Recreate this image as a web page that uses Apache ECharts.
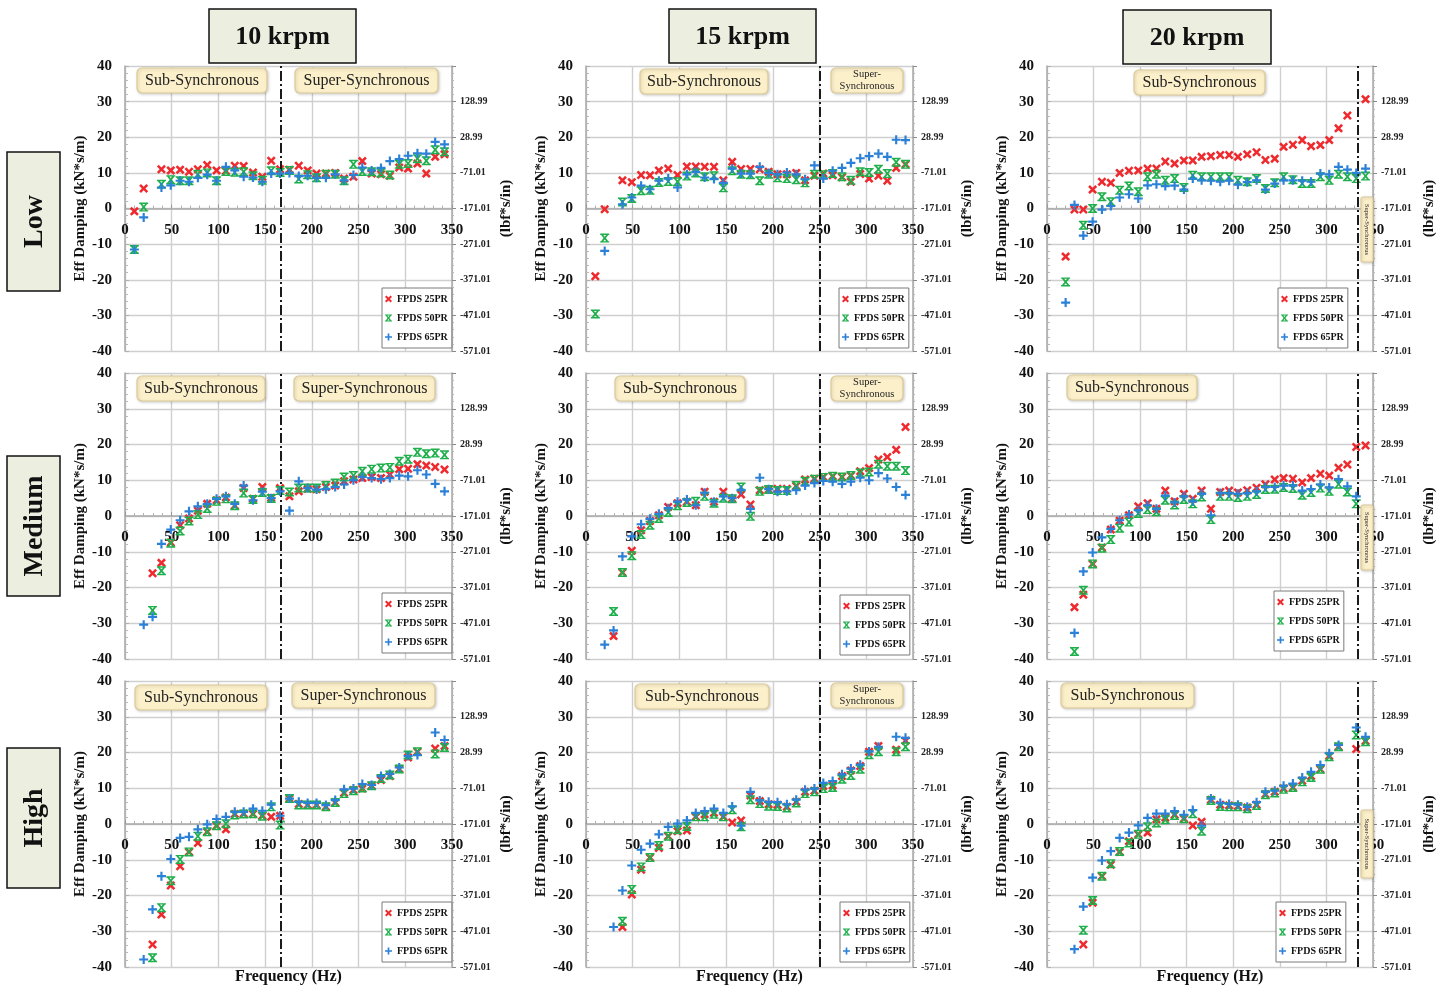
<!DOCTYPE html>
<html>
<head>
<meta charset="utf-8">
<title>Effective damping vs frequency</title>
<script src="https://cdn.jsdelivr.net/npm/echarts/dist/echarts.min.js"></script>
<style>
  html, body { margin: 0; padding: 0; background: #ffffff; }
  #chart { width: 1450px; height: 990px; }
</style>
</head>
<body>
<div id="chart"></div>
<script>
// Excitation frequencies (Hz)
const freqHz = [10, 20, 29.5, 39, 49, 59, 68.5, 78, 88, 98, 108, 117.5, 127, 137, 147, 156.5, 166, 176, 186, 195.5,
  205, 215, 225, 234.5, 244.5, 254, 264, 274, 283.5, 293.5, 303, 313, 322.5, 332, 342];

// Effective damping (kN*s/m) — Low load
const low10_25 = [-0.8, 5.6, null, 11.0, 10.7, 10.9, 10.3, 11.0, 12.2, 10.7, 10.5, 12.0, 11.9, 10.1, 8.9, 13.4, 11.0, 10.9, 12.0, 10.7, 9.8, 9.8, 10.0, 8.4, 8.9, 13.3, 9.8, 9.6, 9.2, 11.5, 11.2, 12.6, 9.8, 14.5, 15.2];
const low10_50 = [-11.5, 0.4, null, 6.8, 8.1, 7.8, 7.8, 9.6, 10.0, 7.8, 10.4, 10.2, 10.3, 9.2, 7.9, 10.6, 10.1, 10.7, 8.3, 9.5, 8.6, 9.6, 9.6, 7.8, 12.4, 10.4, 10.3, 10.0, 9.4, 12.4, 12.6, 14.0, 13.4, 16.5, 15.9];
const low10_65 = [-11.5, -2.5, null, 5.9, 6.5, 7.8, 7.5, 8.6, 9.5, 7.8, 11.7, 10.7, 8.9, 8.7, 7.5, 9.8, 9.8, 10.0, 9.1, 9.2, 8.6, 8.6, 9.6, 7.9, 9.4, 11.5, 10.7, 11.4, 13.3, 13.9, 14.8, 15.5, 15.4, 18.7, 18.0];

const low15_25 = [-19.0, -0.2, null, 7.9, 7.4, 9.4, 9.3, 10.7, 11.2, 9.4, 11.8, 11.8, 11.7, 11.7, 7.9, 13.1, 11.1, 11.1, 11.0, 10.3, 9.6, 9.6, 10.0, 7.9, 9.2, 9.8, 9.3, 8.8, 7.5, 9.7, 8.4, 9.2, 7.8, 11.4, 12.4];
const low15_50 = [-29.6, -8.3, null, 1.8, 2.8, 5.0, 5.1, 7.3, 7.6, 7.5, 9.1, 10.0, 8.9, 9.2, 5.8, 10.6, 9.6, 9.5, 7.8, 9.6, 8.6, 8.4, 8.1, 7.2, 9.6, 9.5, 9.8, 8.9, 7.9, 10.3, 10.1, 11.0, 9.8, 13.0, 12.4];
const low15_65 = [null, -11.9, null, 1.2, 3.1, 6.4, 5.4, 7.8, 8.4, 5.9, 9.6, 10.3, 8.7, 8.3, 7.2, 11.2, 9.8, 9.8, 11.7, 10.0, 9.6, 10.1, 9.6, 8.2, 12.1, 8.4, 10.6, 11.4, 12.8, 14.1, 14.7, 15.4, 14.5, 19.3, 19.2];

const low20_25 = [null, -13.5, -0.3, -0.3, 5.3, 7.5, 7.2, 10.0, 10.6, 10.7, 11.2, 11.2, 13.2, 12.6, 13.5, 13.5, 14.5, 14.7, 15.0, 15.0, 14.5, 15.2, 15.8, 13.6, 14.0, 17.3, 17.9, 19.2, 17.5, 17.8, 19.2, 22.5, 26.1, null, 30.7];
const low20_50 = [null, -20.6, null, -4.7, 0.0, 3.3, 1.9, 5.1, 6.3, 4.7, 8.9, 9.6, 7.9, 8.4, 5.9, 9.3, 8.9, 8.9, 8.9, 8.9, 7.9, 7.5, 8.4, 5.6, 7.2, 8.9, 8.1, 7.0, 7.0, 8.9, 7.9, 9.6, 8.9, 8.4, 9.1];
const low20_65 = [null, -26.4, 1.0, -7.6, -3.7, -0.3, 0.7, 3.1, 4.0, 2.8, 6.5, 6.8, 6.3, 6.4, 5.3, 8.4, 7.9, 7.8, 7.5, 7.8, 6.7, 7.4, 7.9, 5.3, 7.0, 7.9, 7.9, 7.8, 7.5, 9.8, 9.6, 11.7, 10.9, 10.0, 11.2];

// Medium load
const med10_25 = [null, null, -16.0, -13.1, -7.4, -2.6, -0.7, 1.5, 3.4, 4.4, 5.2, 2.9, 7.8, 4.8, 8.1, 5.1, 7.8, 5.5, 6.9, 7.6, 7.5, 8.1, 8.5, 9.7, 10.2, 10.6, 10.9, 10.6, 11.6, 13.1, 13.2, 14.5, 14.1, 13.7, 13.0];
const med10_50 = [null, null, -26.4, -15.3, -7.6, -4.2, -1.4, 0.4, 2.1, 4.1, 4.8, 2.9, 6.4, 4.6, 6.6, 4.9, 7.1, 6.7, 7.8, 7.8, 7.8, 8.5, 9.2, 10.9, 11.3, 12.5, 13.1, 13.4, 13.6, 15.3, 15.9, 17.8, 17.4, 17.6, 17.1];
const med10_65 = [null, -30.4, -28.2, -7.8, -3.8, -1.2, 1.3, 2.7, 3.4, 4.8, 5.5, 3.4, 8.5, 4.4, 6.8, 5.0, 6.9, 1.5, 9.7, 7.8, 7.4, 7.5, 8.1, 8.8, 10.0, 10.9, 10.6, 10.3, 10.6, 11.3, 11.1, 12.8, 11.6, 9.0, 6.9];

const med15_25 = [null, null, -33.6, -15.8, -9.7, -4.0, -1.4, 0.2, 2.5, 3.6, 4.0, 3.0, 6.8, 4.0, 6.8, 4.8, 6.0, 3.2, 7.2, 7.4, 7.6, 7.6, 8.4, 10.2, 10.4, 10.9, 11.1, 10.9, 11.3, 12.5, 13.4, 15.8, 16.5, 18.5, 24.9];
const med15_50 = [null, null, -26.7, -15.8, -11.1, -5.2, -2.6, -0.7, 1.0, 2.9, 3.8, 4.1, 5.5, 3.6, 5.0, 4.8, 8.1, -0.1, 6.9, 7.4, 7.1, 7.1, 8.5, 9.7, 10.3, 10.8, 11.1, 10.9, 11.3, 12.0, 12.3, 14.5, 13.9, 13.9, 12.7];
const med15_65 = [null, -36.0, -32.0, -11.3, -5.7, -2.3, -0.8, 0.6, 2.2, 4.0, 4.6, 3.0, 6.5, 4.0, 5.5, 5.0, 7.3, 2.0, 10.7, 7.5, 6.8, 6.9, 7.2, 8.5, 9.2, 9.8, 9.6, 9.0, 9.6, 10.7, 10.0, 12.0, 10.5, 8.1, 5.9];

const med20_25 = [null, null, -25.5, -22.0, -13.4, -8.8, -3.8, -1.3, 0.2, 2.7, 3.6, 2.0, 7.1, 4.1, 6.2, 4.8, 7.1, 2.0, 6.7, 7.1, 6.6, 7.2, 7.9, 8.9, 10.2, 10.6, 10.4, 9.4, 10.6, 11.8, 11.3, 13.5, 14.4, 19.3, 19.7];
const med20_50 = [null, null, -37.9, -20.8, -13.4, -9.0, -6.6, -3.4, -1.7, 0.7, 1.8, 1.2, 4.4, 3.1, 4.6, 3.4, 5.3, -1.0, 5.5, 5.5, 5.2, 5.5, 6.0, 7.4, 7.5, 8.0, 7.7, 5.8, 6.6, 7.8, 6.9, 8.9, 6.7, 3.4, null];
const med20_65 = [null, null, -32.7, -15.5, -10.2, -6.0, -3.6, -1.2, 0.4, 1.6, 3.0, 2.0, 5.7, 3.8, 5.5, 4.1, 6.2, 0.2, 6.4, 6.4, 6.2, 6.4, 6.9, 8.1, 8.1, 8.5, 8.5, 7.1, 7.5, 8.8, 8.0, 10.3, 8.3, 5.5, null];

// High load
const high10_25 = [null, null, -33.7, -25.3, -17.2, -11.8, -7.8, -5.3, -2.2, -0.5, -1.5, 2.8, 2.9, 2.8, 2.3, 2.0, 2.3, 7.1, 5.6, 5.3, 5.3, 4.8, 6.0, 8.7, 9.5, 9.9, 10.7, 12.3, 13.4, 15.4, 18.6, 20.2, null, 21.1, 21.8];
const high10_50 = [null, null, -37.4, -23.4, -15.9, -9.9, -7.8, -3.4, -2.2, -0.5, 0.1, 2.5, 2.8, 2.9, 2.2, 4.8, -0.3, 7.1, 5.3, 5.3, 5.3, 4.8, 6.0, 8.5, 9.3, 10.1, 10.7, 12.7, 13.7, 15.4, 19.3, 20.2, null, 19.6, 21.4];
const high10_65 = [null, -37.9, -23.9, -14.6, -9.8, -3.9, -3.6, -1.5, -0.1, 1.4, 2.0, 3.4, 3.4, 4.3, 3.7, 5.4, 2.3, 7.1, 6.2, 5.9, 5.9, 5.3, 6.7, 9.7, 9.9, 11.2, 10.9, 13.4, 14.0, 15.8, 19.0, 19.3, null, 25.6, 23.5];

const high15_25 = [null, null, null, -28.8, -19.7, -12.8, -9.4, -6.7, -3.4, -2.0, -1.8, 2.0, 2.7, 3.1, 2.0, 0.4, 1.0, 8.0, 6.4, 5.5, 5.4, 4.8, 6.2, 9.0, 9.3, 10.6, 10.8, 13.4, 15.0, 16.2, 20.2, 21.8, null, 20.8, 23.3];
const high15_50 = [null, null, null, -27.2, -18.3, -12.0, -9.4, -6.0, -3.4, -1.6, -0.7, 2.0, 2.0, 2.7, 2.0, 4.0, -0.8, 6.8, 5.7, 5.0, 4.9, 4.5, 5.9, 8.5, 9.0, 9.9, 10.2, 12.5, 13.6, 15.3, 19.4, 20.2, null, 20.2, 21.6];
const high15_65 = [null, null, -28.8, -18.6, -11.6, -7.2, -5.5, -2.9, -0.8, 0.1, 1.0, 3.1, 3.6, 4.3, 3.1, 4.9, -0.5, 9.0, 6.6, 6.2, 6.1, 5.5, 6.8, 9.6, 9.9, 11.5, 12.0, 13.9, 15.5, 16.6, 20.3, 21.6, null, 24.4, 24.1];

const high20_25 = [null, null, null, -33.7, -22.0, -14.6, -11.4, -7.8, -4.8, -2.9, -2.4, 1.3, 1.8, 2.6, 1.5, -0.4, 0.6, 6.8, 5.4, 5.2, 5.0, 4.6, 5.4, 8.3, 9.0, 9.9, 10.2, 12.1, 13.4, 15.3, 19.0, 21.6, null, 21.0, 23.2];
const high20_50 = [null, null, null, -29.7, -21.4, -14.6, -11.1, -7.7, -5.3, -2.9, -0.8, 0.3, 1.2, 2.4, 1.5, 2.9, -2.0, 6.6, 4.9, 4.8, 4.8, 4.3, 5.2, 8.2, 8.7, 9.7, 10.2, 11.8, 13.0, 15.3, 18.8, 21.6, null, 24.9, 23.0];
const high20_65 = [null, null, -35.0, -23.1, -15.0, -10.2, -7.6, -3.9, -2.4, -0.4, 1.7, 2.9, 2.9, 3.6, 2.6, 3.9, -0.5, 7.1, 5.9, 5.6, 5.4, 4.8, 6.1, 9.0, 9.3, 10.7, 11.3, 13.0, 14.6, 16.5, 19.8, 22.1, null, 27.0, 24.4];

const seriesNames = ['FPDS 25PR', 'FPDS 50PR', 'FPDS 65PR'];
const speedLabels = ['10 krpm', '15 krpm', '20 krpm'];
const loadLabels = ['Low', 'Medium', 'High'];
const syncHz = [166.67, 250, 333.33];          // running speed of each column
const rightTickLabels = ['-571.01', '-471.01', '-371.01', '-271.01', '-171.01', '-71.01', '28.99', '128.99', ''];

const panels = [
  [[low10_25, low10_50, low10_65], [low15_25, low15_50, low15_65], [low20_25, low20_50, low20_65]],
  [[med10_25, med10_50, med10_65], [med15_25, med15_50, med15_65], [med20_25, med20_50, med20_65]],
  [[high10_25, high10_50, high10_65], [high15_25, high15_50, high15_65], [high20_25, high20_50, high20_65]]
];

// ---- layout & styling ----
const SERIF = '"Liberation Serif", "Times New Roman", serif';
const seriesColors = ['#ee2a2e', '#1faf4c', '#2b80d8'];
const markerPaths = [
  'path://M0,2L2,0L5,3L8,0L10,2L7,5L10,8L8,10L5,7L2,10L0,8L3,5Z',
  'path://M0,0H10V1.6H0Z M0,8.4H10V10H0Z M1,1.6L3.4,1.6L5,3.4L6.6,1.6L9,1.6L6.3,5L9,8.4L6.6,8.4L5,6.6L3.4,8.4L1,8.4L3.7,5Z',
  'path://M3.8,0H6.2V3.8H10V6.2H6.2V10H3.8V6.2H0V3.8H3.8Z'
];
const colLeft = [125, 586, 1047];
const colWidth = [327, 327, 326];
const rowTop = [66, 373, 681];
const rowHeight = [285, 286, 286];
const rightNameGap = [47, 47, 49];
const legendPos = [
  [[382, 288], [839, 288], [1278, 288]],
  [[382, 593], [840, 595], [1274, 591]],
  [[382, 902], [840, 902], [1276, 902]]
];
const headerBoxes = [[209, 9, 147, 54], [669, 9, 147, 54], [1123, 10, 148, 54]];
const rowBoxes = [[7, 152, 53, 139], [7, 456, 53, 140], [7, 748, 53, 140]];
const noteBoxes = [
  [[137, 68, 130, 25, 'sub'], [295, 68, 143, 25, 'super']],
  [[640, 69, 128, 25, 'sub'], [831, 68, 72, 25, 'superSmall']],
  [[1134, 70, 131, 25, 'sub'], [1361, 197, 12, 65, 'superVertical']],
  [[137, 376, 128, 25, 'sub'], [294, 376, 141, 25, 'super']],
  [[615, 376, 130, 25, 'sub'], [831, 376, 72, 25, 'superSmall']],
  [[1067, 375, 130, 25, 'sub'], [1361, 505, 12, 65, 'superVertical']],
  [[135, 685, 132, 25, 'sub'], [292, 683, 143, 25, 'super']],
  [[635, 684, 134, 25, 'sub'], [831, 683, 72, 25, 'superSmall']],
  [[1061, 683, 133, 25, 'sub'], [1361, 810, 12, 68, 'superVertical']]
];
const noteText = {
  sub: ['Sub-Synchronous', 16, 0],
  super: ['Super-Synchronous', 16, 0],
  superSmall: ['Super-\nSynchronous', 10.5, 0],
  superVertical: ['Super-Synchronous', 6.5, -Math.PI / 2]
};

const gridColor = '#cfcfcf';
const axisColor = '#a9a9a9';

const grids = [], xAxes = [], yAxes = [], series = [], legends = [], graphics = [];

panels.forEach((rowPanels, r) => {
  rowPanels.forEach((trio, c) => {
    const gi = r * 3 + c;
    grids.push({
      left: colLeft[c], top: rowTop[r], width: colWidth[c], height: rowHeight[r],
      containLabel: false, outerBoundsMode: 'none', show: false
    });
    // frequency axis runs along the zero-damping line (middle of the symmetric ±40 range)
    xAxes.push({
      gridIndex: gi, type: 'value', min: 0, max: 350, interval: 50,
      position: 'bottom', offset: -rowHeight[r] / 2,
      axisLine: { show: true, onZero: false, lineStyle: { color: axisColor, width: 1.5 } },
      axisTick: { show: true, inside: true, length: 4, lineStyle: { color: '#9a9a9a' } },
      minorTick: { show: true, splitNumber: 5, length: 3, lineStyle: { color: '#b0b0b0' } },
      axisLabel: { fontFamily: SERIF, fontWeight: 'bold', fontSize: 15, color: '#111', margin: 14 },
      splitLine: { show: true, lineStyle: { color: gridColor, width: 1.4 } },
      minorSplitLine: { show: false }
    });
    yAxes.push({
      gridIndex: gi, type: 'value', position: 'left', min: -40, max: 40, interval: 10,
      name: 'Eff Damping (kN*s/m)', nameLocation: 'middle', nameGap: 37, nameRotate: 90,
      nameMoveOverlap: false,
      nameTextStyle: { fontFamily: SERIF, fontWeight: 'bold', fontSize: 15, color: '#111' },
      axisLine: { show: true, onZero: false, lineStyle: { color: axisColor, width: 1.5 } },
      axisTick: { show: true, inside: true, length: 4, lineStyle: { color: '#b0b0b0' } },
      minorTick: { show: true, splitNumber: 5, length: 3, lineStyle: { color: '#b8b8b8' } },
      axisLabel: { fontFamily: SERIF, fontWeight: 'bold', fontSize: 15, color: '#111', margin: 13 },
      splitLine: { show: true, lineStyle: { color: gridColor, width: 1.4 } }
    });
    yAxes.push({
      gridIndex: gi, type: 'value', position: 'right', min: -40, max: 40, interval: 10,
      name: '(lbf*s/in)', nameLocation: 'middle', nameGap: rightNameGap[c], nameRotate: 90,
      nameMoveOverlap: false,
      nameTextStyle: { fontFamily: SERIF, fontWeight: 'bold', fontSize: 15, color: '#111' },
      axisLine: { show: true, onZero: false, lineStyle: { color: axisColor, width: 1.5 } },
      axisTick: { show: true, inside: false, length: 4, lineStyle: { color: '#8a8a8a' } },
      minorTick: { show: true, splitNumber: 5, length: 2, lineStyle: { color: '#b8b8b8' } },
      axisLabel: {
        fontFamily: SERIF, fontWeight: 'bold', fontSize: 10, color: '#222', margin: 8,
        formatter: v => rightTickLabels[Math.round((v + 40) / 10)]
      },
      splitLine: { show: false }
    });

    trio.forEach((vals, s) => {
      const pts = [];
      vals.forEach((v, i) => { if (v !== null) pts.push([freqHz[i], v]); });
      const ser = {
        type: 'scatter', name: seriesNames[s], xAxisIndex: gi, yAxisIndex: gi * 2,
        data: pts, symbol: markerPaths[s], symbolSize: 9, silent: true, z: 3 + s,
        itemStyle: { color: seriesColors[s], opacity: 1 }
      };
      if (s === 0) {
        ser.markLine = {
          silent: true, symbol: ['none', 'none'], label: { show: false },
          lineStyle: { color: '#1a1a1a', width: 2, type: [10, 3, 2, 3] },
          data: [{ xAxis: syncHz[c] }]
        };
      }
      series.push(ser);
    });

    legends.push({
      data: seriesNames.map((n, s) => ({ name: n, icon: markerPaths[s] })),
      orient: 'vertical', left: legendPos[r][c][0], top: legendPos[r][c][1],
      itemWidth: 7, itemHeight: 7, itemGap: 7, itemTextGap: 3,
      padding: [5, 4, 5, 3], borderColor: '#7a7a7a', borderWidth: 1, backgroundColor: '#ffffff',
      selectedMode: false,
      textStyle: { fontFamily: SERIF, fontWeight: 'bold', fontSize: 10, color: '#111', lineHeight: 12 }
    });

    // region annotations
    noteBoxes[gi].forEach(([x, y, w, h, kind]) => {
      const [txt, fs, rot] = noteText[kind];
      graphics.push({
        type: 'rect', z: 100, silent: true,
        shape: { x: x, y: y, width: w, height: h, r: kind === 'superVertical' ? 2 : 5 },
        style: { fill: '#fcf0cb', stroke: '#dccb98', lineWidth: 1.2,
                 shadowBlur: 3, shadowColor: 'rgba(0,0,0,0.18)', shadowOffsetX: 1, shadowOffsetY: 1 }
      });
      graphics.push({
        type: 'text', z: 101, silent: true, x: x + w / 2, y: y + h / 2, rotation: rot,
        style: { text: txt, fontFamily: SERIF, fontSize: fs, fill: '#222',
                 lineHeight: kind === 'superSmall' ? 12 : fs + 2,
                 align: 'center', verticalAlign: 'middle', textAlign: 'center', textVerticalAlign: 'middle' }
      });
    });
  });
});

// column headers
headerBoxes.forEach(([x, y, w, h], c) => {
  graphics.push({ type: 'rect', z: 100, silent: true, shape: { x, y, width: w, height: h },
    style: { fill: '#ecefe0', stroke: '#111', lineWidth: 1.5 } });
  graphics.push({ type: 'text', z: 101, silent: true, x: x + w / 2, y: y + h / 2 + 1,
    style: { text: speedLabels[c], fontFamily: SERIF, fontWeight: 'bold', fontSize: 26, fill: '#111',
             align: 'center', verticalAlign: 'middle', textAlign: 'center', textVerticalAlign: 'middle' } });
});

// row labels
rowBoxes.forEach(([x, y, w, h], r) => {
  graphics.push({ type: 'rect', z: 100, silent: true, shape: { x, y, width: w, height: h },
    style: { fill: '#ecefe0', stroke: '#111', lineWidth: 1.5 } });
  graphics.push({ type: 'text', z: 101, silent: true, x: x + w / 2 + 1, y: y + h / 2, rotation: Math.PI / 2,
    style: { text: loadLabels[r], fontFamily: SERIF, fontWeight: 'bold', fontSize: 28, fill: '#111',
             align: 'center', verticalAlign: 'middle', textAlign: 'center', textVerticalAlign: 'middle' } });
});

// frequency axis titles under the bottom row
colLeft.forEach((l, c) => {
  graphics.push({ type: 'text', z: 101, silent: true, x: l + colWidth[c] / 2, y: 977,
    style: { text: 'Frequency (Hz)', fontFamily: SERIF, fontWeight: 'bold', fontSize: 16, fill: '#111',
             align: 'center', verticalAlign: 'middle', textAlign: 'center', textVerticalAlign: 'middle' } });
});

const chart = echarts.init(document.getElementById('chart'), null, { renderer: 'canvas' });
chart.setOption({
  animation: false,
  backgroundColor: '#ffffff',
  grid: grids,
  xAxis: xAxes,
  yAxis: yAxes,
  legend: legends,
  series: series,
  graphic: { elements: graphics }
});
</script>
</body>
</html>
